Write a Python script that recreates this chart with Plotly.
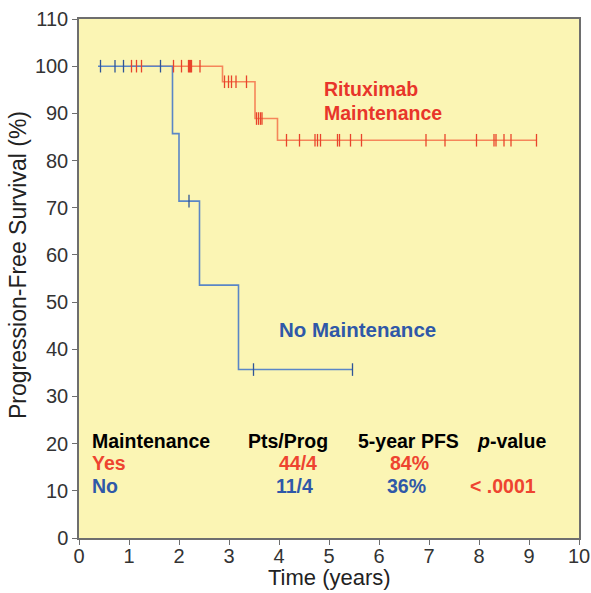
import plotly.graph_objects as go

# ---- data ----
# Rituximab maintenance (Kaplan-Meier steps)
ritux_t = [1.02, 2.87, 3.52, 3.97, 9.15]
ritux_s = [100, 96.7, 88.9, 84.3, 84.3]
ritux_cens_t = [1.05, 1.15, 1.25, 1.89, 2.05, 2.19, 2.21, 2.23, 2.25, 2.42,
                2.91, 2.99, 3.05, 3.14, 3.35,
                3.55, 3.59, 3.63, 3.66,
                4.15, 4.41, 4.72, 4.77, 4.83, 5.17, 5.21, 5.43, 5.65,
                6.94, 7.32, 7.95, 8.30, 8.34, 8.50, 8.64, 9.15]
ritux_cens_s = [100] * 10 + [96.7] * 5 + [88.9] * 4 + [84.3] * 17

# No maintenance
nomt_t = [0.38, 1.87, 2.0, 2.41, 3.19, 5.47]
nomt_s = [100, 85.7, 71.4, 53.6, 35.7, 35.7]
nomt_cens_t = [0.43, 0.72, 0.89, 1.63, 2.2, 3.49, 5.47]
nomt_cens_s = [100, 100, 100, 100, 71.4, 35.7, 35.7]

x_ticks = list(range(0, 11))
y_ticks = list(range(0, 111, 10))

table_header = ["Maintenance", "Pts/Prog", "5-year PFS", "<i>p</i>-value"]
table_yes = ["Yes", "44/4", "84%"]
table_no = ["No", "11/4", "36%", "< .0001"]

ORANGE_LINE = "#F5865A"
ORANGE_MARK = "#E8442C"
BLUE_LINE = "#5A86C6"
BLUE_MARK = "#2F5597"
RED_TXT = "#E8352A"
BLUE_TXT = "#2F58A8"
FONT = "Arial, Liberation Sans, sans-serif"

fig = go.Figure()

fig.add_trace(go.Scatter(x=ritux_t, y=ritux_s, mode="lines", line_shape="hv",
                         line=dict(color=ORANGE_LINE, width=1.6), hoverinfo="skip"))
fig.add_trace(go.Scatter(x=nomt_t, y=nomt_s, mode="lines", line_shape="hv",
                         line=dict(color=BLUE_LINE, width=1.6), hoverinfo="skip"))
fig.add_trace(go.Scatter(x=ritux_cens_t, y=ritux_cens_s, mode="markers",
                         marker=dict(symbol="line-ns", size=9,
                                     line=dict(color=ORANGE_MARK, width=1.3))))
fig.add_trace(go.Scatter(x=nomt_cens_t, y=nomt_cens_s, mode="markers",
                         marker=dict(symbol="line-ns", size=9,
                                     line=dict(color=BLUE_MARK, width=1.3))))

def ann(text, x, y, color, size=19.5, xanchor="center", bold=True):
    fig.add_annotation(x=x, y=y, xref="x", yref="y", text=f"<b>{text}</b>" if bold else text,
                       showarrow=False, xanchor=xanchor, yanchor="middle",
                       font=dict(family=FONT, size=size, color=color))

ann("Rituximab", 4.85, 95.1, RED_TXT, xanchor="left")
ann("Maintenance", 4.85, 90.1, RED_TXT, xanchor="left")
ann("No Maintenance", 3.95, 44.1, BLUE_TXT, size=20.5, xanchor="left")

row_y = [20.6, 15.9, 11.0]
ann(table_header[0], 0.22, row_y[0], "#000000", xanchor="left")
ann(table_header[1], 4.17, row_y[0], "#000000")
ann(table_header[2], 6.58, row_y[0], "#000000")
ann(table_header[3], 8.65, row_y[0], "#000000")
ann(table_yes[0], 0.22, row_y[1], "#EE4430", xanchor="left")
ann(table_yes[1], 4.38, row_y[1], "#EE4430")
ann(table_yes[2], 6.60, row_y[1], "#EE4430")
ann(table_no[0], 0.22, row_y[2], BLUE_TXT, xanchor="left")
ann(table_no[1], 4.31, row_y[2], BLUE_TXT)
ann(table_no[2], 6.54, row_y[2], BLUE_TXT)
ann(table_no[3], 8.48, row_y[2], "#EE4430")

# axis titles as annotations for precise placement
fig.add_annotation(text="Time (years)", xref="paper", yref="paper", x=0.501, y=-0.077,
                   showarrow=False, xanchor="center", yanchor="middle",
                   font=dict(family=FONT, size=22, color="#222222"))
fig.add_annotation(text="Progression-Free Survival (%)", xref="paper", yref="paper",
                   x=-0.122, y=0.526, textangle=-90, showarrow=False,
                   xanchor="center", yanchor="middle",
                   font=dict(family=FONT, size=23, color="#222222"))

axis_common = dict(showline=True, linecolor="#6E6E6E", linewidth=1.5, mirror=True,
                   ticks="outside", ticklen=5, tickcolor="#6E6E6E", tickwidth=1.2,
                   showgrid=False, zeroline=False, automargin=False,
                   tickfont=dict(family=FONT, size=20, color="#333333"))

fig.update_xaxes(range=[0, 10], tickvals=x_ticks, fixedrange=True,
                 ticklabelstandoff=-6, **axis_common)
fig.update_yaxes(range=[0, 110], tickvals=y_ticks, fixedrange=True, **axis_common)

fig.update_layout(width=591, height=593, showlegend=False,
                  margin=dict(l=79, r=12, t=19, b=55),
                  paper_bgcolor="#FFFFFF", plot_bgcolor="#FBF5B4")

fig.write_html("out.html", config={"displayModeBar": False},
               post_script="document.body.style.margin='0px';")
